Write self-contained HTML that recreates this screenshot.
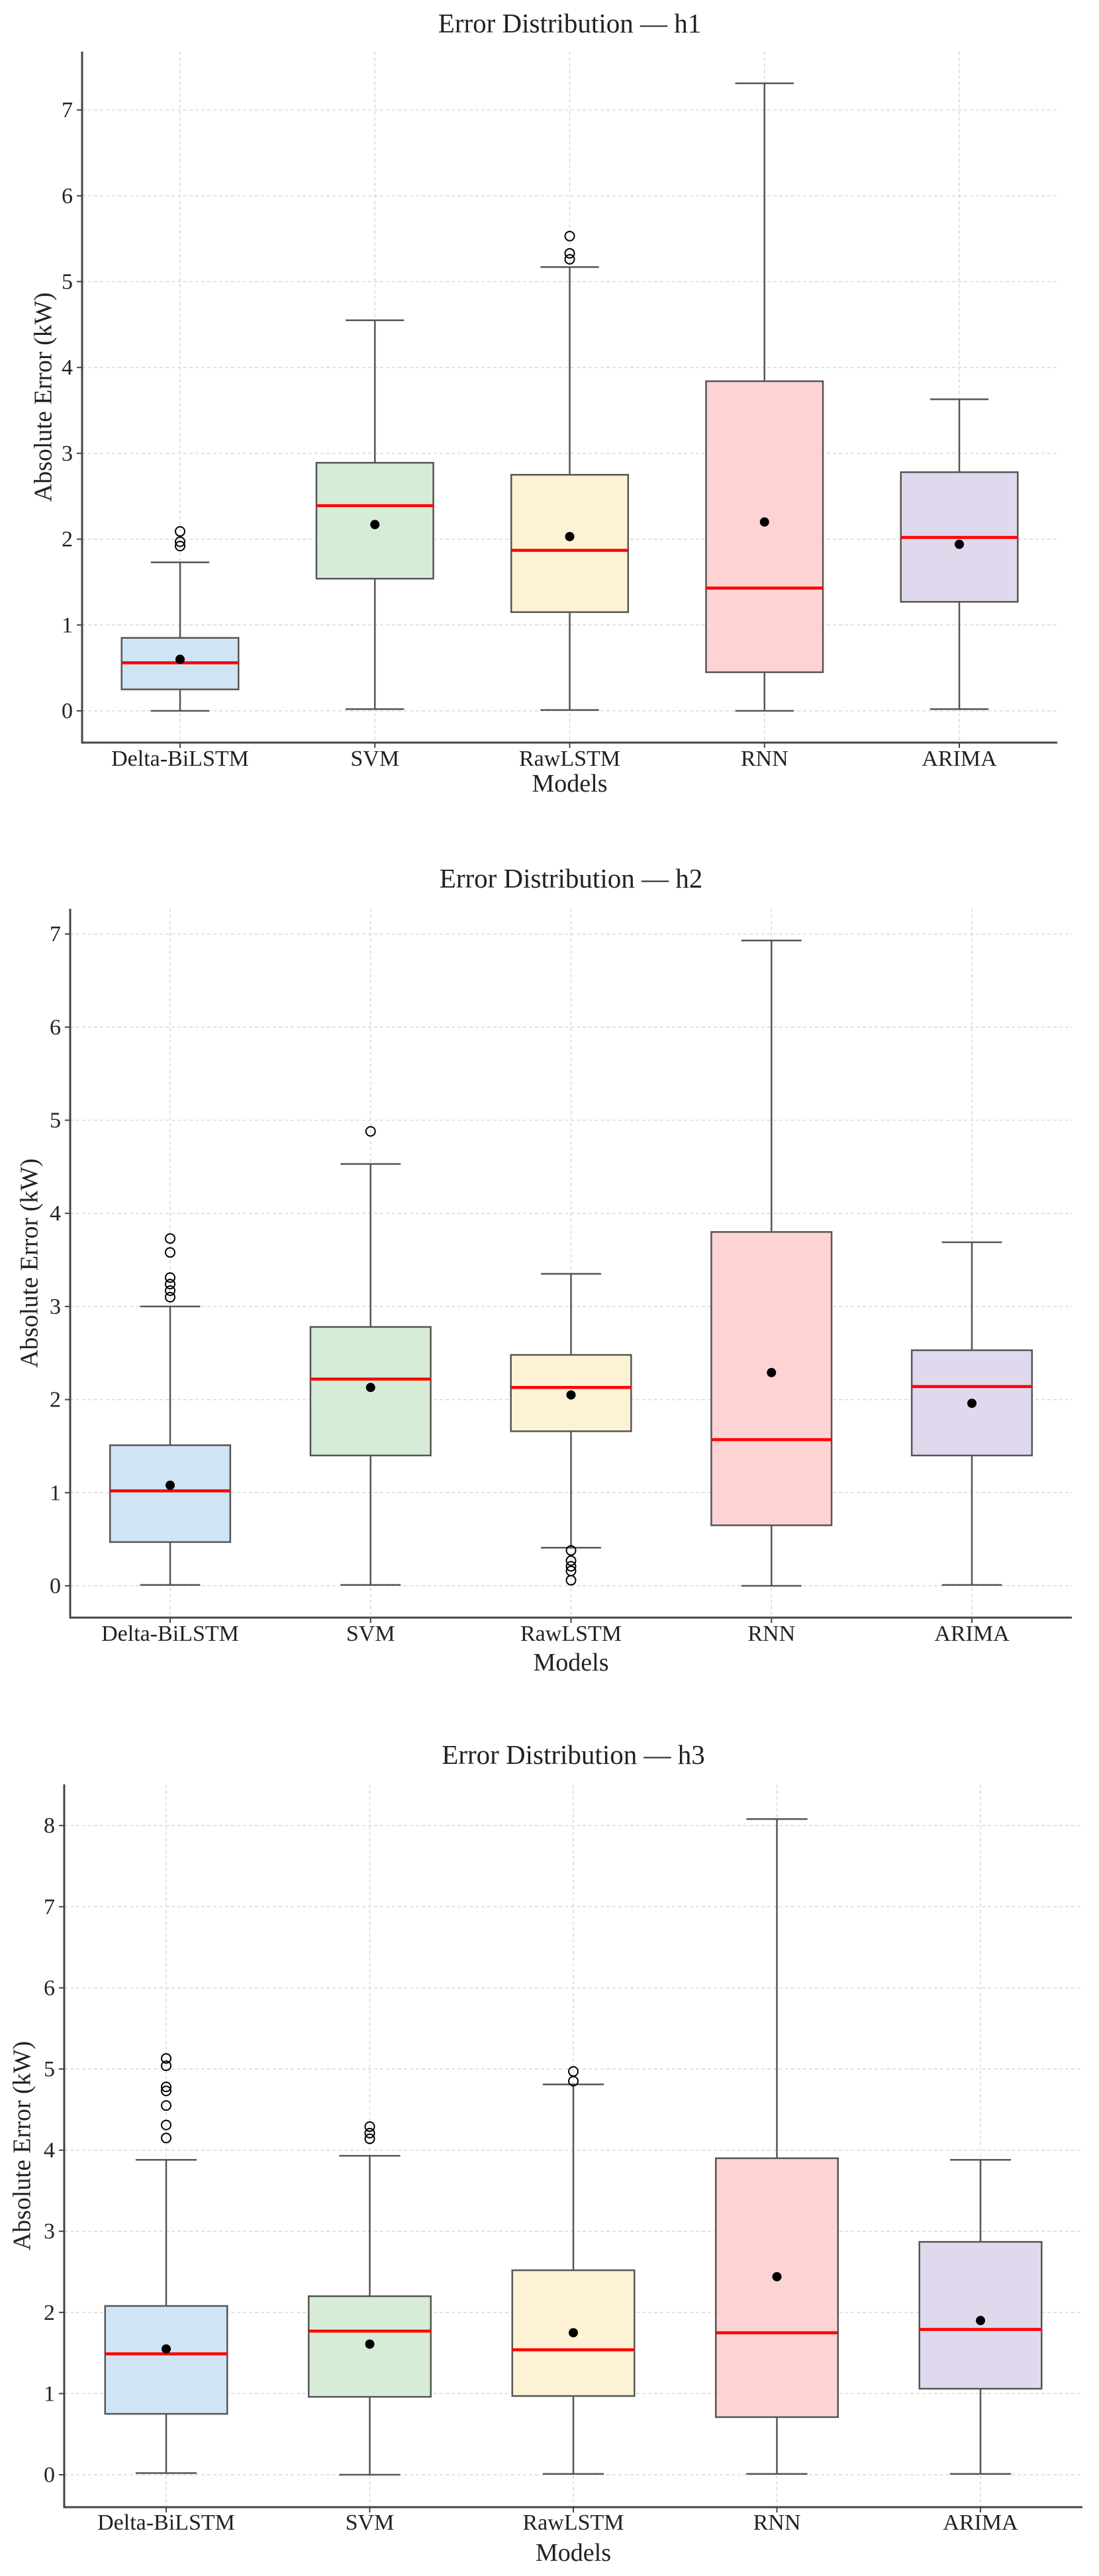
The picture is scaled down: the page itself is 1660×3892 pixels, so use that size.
<!DOCTYPE html>
<html><head><meta charset="utf-8"><style>
html,body{margin:0;padding:0;background:#fff}
svg{display:block}
text{font-family:"Liberation Serif","DejaVu Serif",serif;fill:#222}
</style></head><body>
<svg id="chart" width="1660" height="3892" viewBox="0 0 1660 3892" xmlns="http://www.w3.org/2000/svg"></svg>
<script>
const categories = ["Delta-BiLSTM","SVM","RawLSTM","RNN","ARIMA"];
const panelTitles = ["Error Distribution — h1","Error Distribution — h2","Error Distribution — h3"];
const yTicksH1 = [0,1,2,3,4,5,6,7];
const yTicksH2 = [0,1,2,3,4,5,6,7];
const yTicksH3 = [0,1,2,3,4,5,6,7,8];
// [whislo, q1, median, q3, whishi, mean]
const statsH1 = [[0.0,0.25,0.56,0.85,1.73,0.60],[0.02,1.54,2.39,2.89,4.55,2.17],[0.01,1.15,1.87,2.75,5.17,2.03],[0.0,0.45,1.43,3.84,7.31,2.20],[0.02,1.27,2.02,2.78,3.63,1.94]];
const fliersH1 = [[2.09,1.97,1.92],[],[5.53,5.33,5.26],[],[]];
const statsH2 = [[0.01,0.47,1.02,1.51,3.0,1.08],[0.01,1.40,2.22,2.78,4.53,2.13],[0.41,1.66,2.13,2.48,3.35,2.05],[0.0,0.65,1.57,3.80,6.93,2.29],[0.01,1.40,2.14,2.53,3.69,1.96]];
const fliersH2 = [[3.73,3.58,3.31,3.24,3.17,3.10],[4.88],[0.38,0.27,0.21,0.16,0.06],[],[]];
const statsH3 = [[0.02,0.75,1.49,2.08,3.88,1.55],[0.0,0.96,1.77,2.20,3.93,1.61],[0.01,0.97,1.54,2.52,4.81,1.75],[0.01,0.71,1.75,3.90,8.08,2.44],[0.01,1.06,1.79,2.87,3.88,1.90]];
const fliersH3 = [[5.13,5.04,4.78,4.73,4.55,4.31,4.15],[4.29,4.21,4.14],[4.97,4.85],[],[]];
const fills = ["#cfe4f5","#d6ecd7","#fdf2d4","#fed3d4","#e0d8ec"];

const svg = document.getElementById('chart');
const NS = "http://www.w3.org/2000/svg";
function mk(tag, attrs, parent){const e=document.createElementNS(NS,tag);for(const k in attrs)e.setAttribute(k,attrs[k]);(parent||svg).appendChild(e);return e;}

const layouts = [
 {left:124,right:1597,top:78,bottom:1122,zeroY:1074,unit:129.7,c0:272,c4:1449,titleY:49,tickY:1157,xlabY:1196,ylabX:69,stats:statsH1,fliers:fliersH1,ticks:yTicksH1},
 {left:106,right:1619,top:1373,bottom:2444,zeroY:2396,unit:140.7,c0:257,c4:1468,titleY:1341,tickY:2479,xlabY:2524,ylabX:48,stats:statsH2,fliers:fliersH2,ticks:yTicksH2},
 {left:97,right:1635,top:2696,bottom:3788,zeroY:3739,unit:122.6,c0:251,c4:1481,titleY:2665,tickY:3822,xlabY:3869,ylabX:37,stats:statsH3,fliers:fliersH3,ticks:yTicksH3}
];

layouts.forEach((L,p)=>{
  const g = mk('g',{});
  
  
  const yS = v => L.zeroY - v*L.unit;
  const step = (L.c4-L.c0)/4;
  const xS = i => L.c0 + i*step;
  const bw = step*0.6;
  L.ticks.forEach(t=>{
    const l=mk('line',{x1:L.left,x2:L.right,y1:yS(t),y2:yS(t),stroke:'#d9d9d9','stroke-width':1.5,'stroke-dasharray':'5,4'},g);
    
    
    const tk=mk('line',{x1:L.left-8,x2:L.left,y1:yS(t),y2:yS(t),stroke:'#444','stroke-width':2},g);
    
    
    const tx=mk('text',{x:L.left-14,y:yS(t)+11,'text-anchor':'end','font-size':34},g);
    tx.textContent=t;
    
    
  });
  categories.forEach((c,i)=>{
    const l=mk('line',{x1:xS(i),x2:xS(i),y1:L.top,y2:L.bottom,stroke:'#d9d9d9','stroke-width':1.5,'stroke-dasharray':'5,4'},g);
    
    
    const tk=mk('line',{x1:xS(i),x2:xS(i),y1:L.bottom,y2:L.bottom+8,stroke:'#444','stroke-width':2},g);
    
    
    const tx=mk('text',{x:xS(i),y:L.tickY,'text-anchor':'middle','font-size':34},g);
    tx.textContent=c;
    
    
  });
  L.stats.forEach((s,i)=>{
    const [lo,q1,med,q3,hi,mean]=s;
    const x=xS(i);
    const bg=mk('g',{},g);
    
    
    mk('line',{x1:x,x2:x,y1:yS(q3),y2:yS(hi),stroke:'#555','stroke-width':2.5},bg);
    mk('line',{x1:x,x2:x,y1:yS(q1),y2:yS(lo),stroke:'#555','stroke-width':2.5},bg);
    mk('line',{x1:x-bw/4,x2:x+bw/4,y1:yS(hi),y2:yS(hi),stroke:'#555','stroke-width':2.5},bg);
    mk('line',{x1:x-bw/4,x2:x+bw/4,y1:yS(lo),y2:yS(lo),stroke:'#555','stroke-width':2.5},bg);
    mk('rect',{x:x-bw/2,y:yS(q3),width:bw,height:yS(q1)-yS(q3),fill:fills[i],stroke:'#555','stroke-width':2.5},bg);
    const m=mk('line',{x1:x-bw/2,x2:x+bw/2,y1:yS(med),y2:yS(med),stroke:'#ff0000','stroke-width':4.5},bg);
    
    
    const d=mk('circle',{cx:x,cy:yS(mean),r:7,fill:'#000'},bg);
    
    
    L.fliers[i].forEach(f=>{
      const c=mk('circle',{cx:x,cy:yS(f),r:7,fill:'none',stroke:'#000','stroke-width':2},bg);
      
      
    });
  });
  const ax=mk('path',{d:`M${L.left},${L.top}V${L.bottom}H${L.right}`,fill:'none',stroke:'#444','stroke-width':3},g);
  
  
  const t=mk('text',{x:(L.left+L.right)/2,y:L.titleY,'text-anchor':'middle','font-size':41},g);
  t.textContent=panelTitles[p];
  
  
  const xl=mk('text',{x:(L.left+L.right)/2,y:L.xlabY,'text-anchor':'middle','font-size':38},g);
  xl.textContent='Models';
  
  
  const yc=(L.top+L.bottom)/2;
  const yl=mk('text',{x:L.ylabX,y:yc,'text-anchor':'middle','font-size':38,transform:`rotate(-90 ${L.ylabX} ${yc})`,'dominant-baseline':'middle'},g);
  yl.textContent='Absolute Error (kW)';
  
  
});
</script>
</body></html>
